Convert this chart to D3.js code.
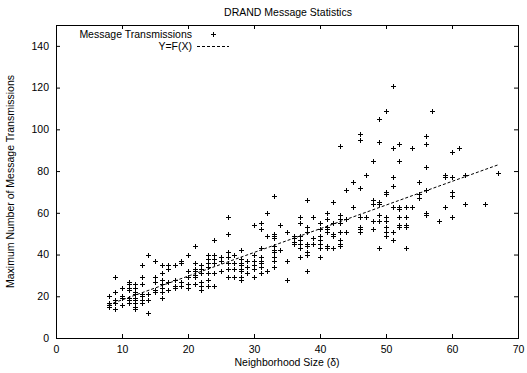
<!DOCTYPE html>
<html>
<head>
<meta charset="utf-8">
<script src="https://cdn.jsdelivr.net/npm/d3@7"></script>
<style>
  html, body { margin: 0; padding: 0; background: #fff; }
  svg text { font-family: "Liberation Sans", Arial, Helvetica, sans-serif; font-size: 10.5px; fill: #000; }
</style>
</head>
<body>
<svg id="chart" width="527" height="373"></svg>
<script>
// ---- data ----
const title = "DRAND Message Statistics";
const xLabel = "Neighborhood Size (\u03b4)";
const yLabel = "Maximum Number of Message Transmissions";
const seriesNames = ["Message Transmissions", "Y=F(X)"];
const xTicks = [0, 10, 20, 30, 40, 50, 60, 70];
const yTicks = [0, 20, 40, 60, 80, 100, 120, 140];

// neighborhood sizes and the observed maximum transmissions at each size
const columnX = [8, 9, 10, 11, 12, 13, 14, 15, 16, 17, 18, 19, 20, 21, 22, 23, 24, 25, 26, 27, 28, 29, 30,
  31, 32, 33, 34, 35, 36, 37, 38, 39, 40, 41, 42, 43, 44, 45, 46, 47, 48, 49, 50, 51, 52, 53, 54, 55, 56,
  57, 58, 59, 60, 61, 62, 65, 67];
const columnY = [
  [20, 17, 16, 15],
  [29, 22, 18, 17, 14],
  [24, 20, 19, 16],
  [27, 26, 24, 23, 19, 18, 17],
  [26, 24, 22, 21, 19, 18, 17, 15, 14],
  [35, 29, 26, 21, 20, 18, 17],
  [40, 21, 18, 12],
  [37, 29, 27, 23, 22],
  [35, 31, 28, 26, 24, 22, 19],
  [35, 33, 27, 23],
  [35, 28, 25, 24],
  [37, 36, 27, 25],
  [40, 32, 29, 26, 24],
  [44, 36, 33, 32, 30, 29, 26],
  [35, 33, 31, 27, 25, 23],
  [40, 38, 36, 34, 31, 28, 25],
  [47, 40, 38, 36, 31, 25],
  [39, 37, 32],
  [58, 50, 41, 39, 36, 33, 29],
  [40, 36, 33, 29],
  [42, 38, 36, 35, 33, 32, 29, 28],
  [37, 34, 31],
  [54, 40, 37, 35, 33, 29],
  [55, 52, 43, 39, 37, 36, 34, 31],
  [60, 49, 32],
  [68, 50, 49, 48, 44, 42, 41, 39, 37, 34],
  [54, 42],
  [51, 37, 28],
  [49, 48, 46, 45],
  [58, 55, 49, 47, 45, 43, 39],
  [66, 53, 51, 45, 44, 41, 40, 32],
  [58, 48, 45],
  [55, 52, 49, 47, 45, 43, 39],
  [60, 57, 53, 52, 51, 44, 43],
  [65, 55, 50, 49, 43],
  [92, 59, 57, 55, 51, 47, 45, 44],
  [71, 57, 51],
  [75, 63],
  [98, 95, 72, 58, 53, 52, 51],
  [78, 58],
  [85, 66, 64, 56, 52],
  [105, 94, 65, 64, 59, 56, 43],
  [109, 70, 69, 58, 56, 53, 51, 49],
  [121, 91, 77, 73, 63, 51, 47],
  [93, 85, 63, 62, 58, 54, 53],
  [63, 58, 54, 53, 43],
  [91, 63],
  [75, 69, 67],
  [97, 93, 82, 71, 60, 59],
  [109],
  [56],
  [78, 77, 63],
  [89, 77, 70, 68, 58],
  [91],
  [78, 64],
  [64],
  [79]
];
// fitted line Y=F(X)
const fitX = [8, 67];
const fitY = [16, 83];

// ---- layout ----
const svg = d3.select("#chart");
const W = 527, H = 373;
const m = { left: 56, right: 9, top: 25, bottom: 35 };
const pw = W - m.left - m.right, ph = H - m.top - m.bottom;

const x = d3.scaleLinear().domain([0, 70]).range([m.left, m.left + pw]);
const y = d3.scaleLinear().domain([0, 150]).range([m.top + ph, m.top]);

const points = [];
columnX.forEach((cx, i) => columnY[i].forEach(v => points.push({ x: cx, y: v })));

// title
svg.append("text").attr("x", 288).attr("y", 15.5).attr("text-anchor", "middle").text(title);

// axes (inward ticks, mirrored)
const tl = 4;
svg.append("g").attr("transform", `translate(0,${m.top + ph})`)
  .call(d3.axisBottom(x).tickValues(xTicks).tickSize(-tl).tickPadding(8).tickFormat(d3.format("d")))
  .call(g => g.select(".domain").remove());
svg.append("g").attr("transform", `translate(0,${m.top})`)
  .call(d3.axisTop(x).tickValues(xTicks).tickSize(-tl).tickFormat(""))
  .call(g => g.select(".domain").remove());
svg.append("g").attr("transform", `translate(${m.left},0)`)
  .call(d3.axisLeft(y).tickValues(yTicks).tickSize(-tl).tickPadding(7).tickFormat(d3.format("d")))
  .call(g => g.select(".domain").remove());
svg.append("g").attr("transform", `translate(${m.left + pw},0)`)
  .call(d3.axisRight(y).tickValues(yTicks).tickSize(-tl).tickFormat(""))
  .call(g => g.select(".domain").remove());
svg.selectAll(".tick line").attr("stroke", "#000");
svg.selectAll(".tick text").style("font-size", "10.5px").attr("fill", "#000")
  .style("font-family", '"Liberation Sans", Arial, sans-serif');

// frame
svg.append("rect").attr("x", m.left + 0.5).attr("y", m.top + 0.5)
  .attr("width", pw).attr("height", ph).attr("fill", "none").attr("stroke", "#000");

// axis titles
svg.append("text").attr("x", 287).attr("y", 366).attr("text-anchor", "middle").text(xLabel);
svg.append("text").attr("transform", `translate(14,${m.top + ph / 2}) rotate(-90)`)
  .attr("text-anchor", "middle").text(yLabel);

// points
const a = 2.5;
const plus = d => `M${-a},0H${a}M0,${-a}V${a}`;
svg.append("g").selectAll("path").data(points).join("path")
  .attr("transform", d => `translate(${Math.round(x(d.x)) + 0.5},${Math.round(y(d.y)) + 0.5})`)
  .attr("d", plus).attr("stroke", "#000").attr("stroke-width", 1).attr("fill", "none");

// fit line
const fit = fitX.map((v, i) => ({ x: v, y: fitY[i] }));
svg.append("path").datum(fit)
  .attr("d", d3.line().x(d => x(d.x)).y(d => y(d.y)))
  .attr("stroke", "#000").attr("stroke-width", 1).attr("stroke-dasharray", "3,2").attr("fill", "none");

// legend
svg.append("text").attr("x", 192).attr("y", 37.5).attr("text-anchor", "end").text(seriesNames[0]);
svg.append("path").attr("transform", "translate(213.5,34.5)").attr("d", plus(null))
  .attr("stroke", "#000").attr("fill", "none");
svg.append("text").attr("x", 192).attr("y", 49.5).attr("text-anchor", "end").text(seriesNames[1]);
svg.append("line").attr("x1", 197).attr("x2", 229).attr("y1", 46.5).attr("y2", 46.5)
  .attr("stroke", "#000").attr("stroke-dasharray", "3,2");
</script>
</body>
</html>
